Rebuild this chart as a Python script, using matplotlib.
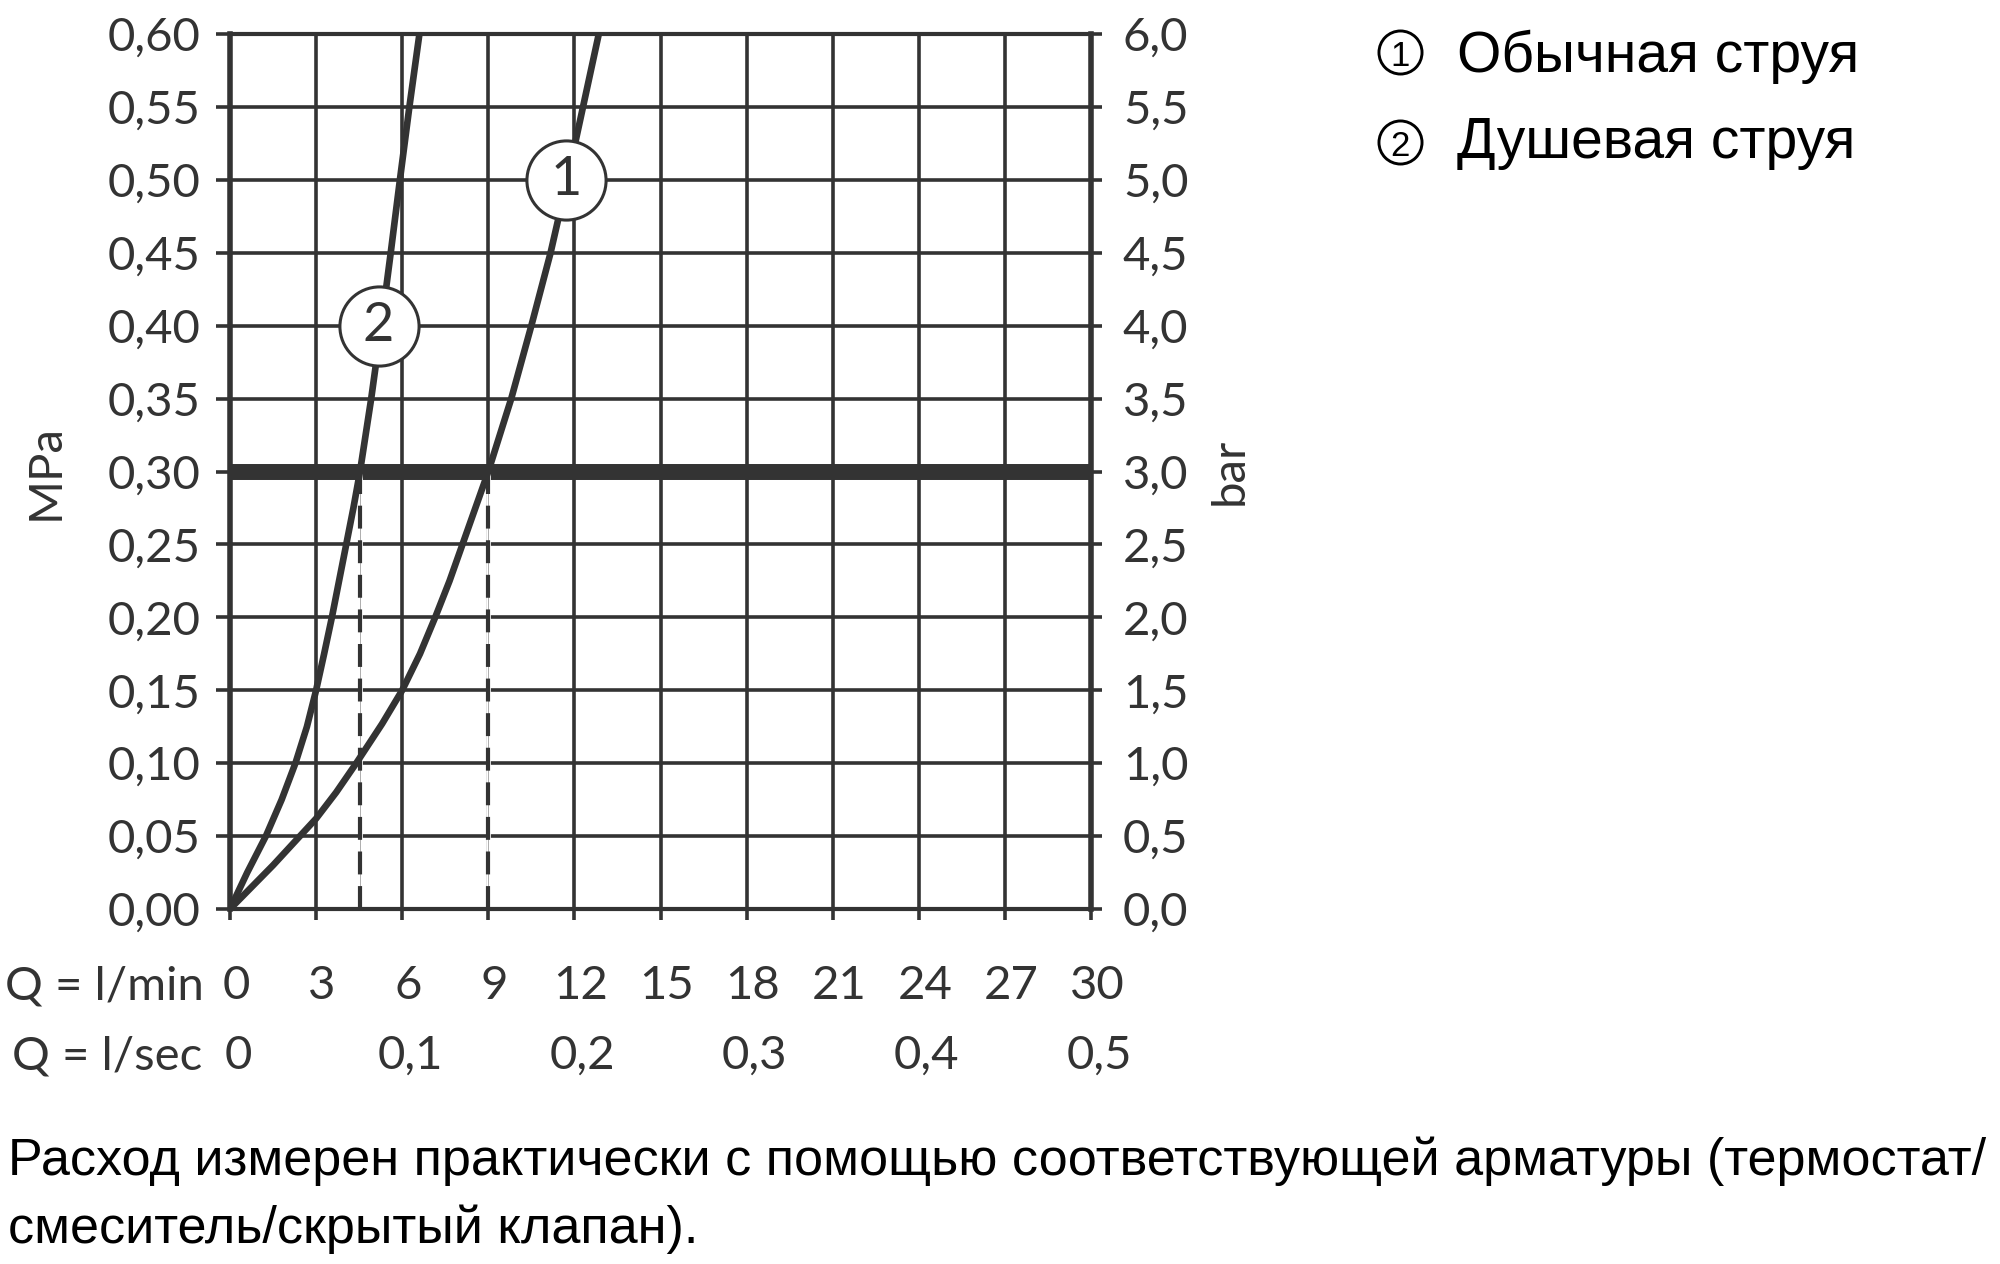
import numpy as np
import matplotlib
matplotlib.use("Agg")
import matplotlib.pyplot as plt
from matplotlib import transforms as mtransforms
from matplotlib.lines import Line2D

# ---------------- data ----------------
# Curve 1: Обычная струя  (Q l/min, p MPa)
q1 = [0.0, 1.5, 3.0, 3.7, 4.4, 5.3, 6.0, 6.62, 7.15, 7.65, 8.1, 8.55, 9.0, 9.8, 10.5, 11.17, 11.75, 12.3, 12.85]
p1 = [0.0, 0.03, 0.062, 0.08, 0.10, 0.127, 0.15, 0.175, 0.20, 0.225, 0.25, 0.275, 0.30, 0.35, 0.40, 0.45, 0.50, 0.55, 0.60]
# Curve 2: Душевая струя
q2 = [0.0, 0.6, 1.25, 1.8, 2.28, 2.68, 3.0, 3.28, 3.55, 3.8, 4.05, 4.3, 4.53, 4.92, 5.27, 5.6, 5.92, 6.25, 6.6]
p2 = [0.0, 0.025, 0.05, 0.075, 0.10, 0.125, 0.15, 0.175, 0.20, 0.225, 0.25, 0.275, 0.30, 0.35, 0.40, 0.45, 0.50, 0.55, 0.60]

marker_labels = ["1", "2"]
marker_q = [11.71, 5.18]
marker_p = [0.50, 0.40]

ref_pressure = 0.30           # thick reference line (MPa)
dashed_q = [4.53, 9.0]        # flow at 0.30 MPa

y_ticks = [0.00, 0.05, 0.10, 0.15, 0.20, 0.25, 0.30, 0.35, 0.40, 0.45, 0.50, 0.55, 0.60]
y_labels = ["0,00", "0,05", "0,10", "0,15", "0,20", "0,25", "0,30", "0,35", "0,40", "0,45", "0,50", "0,55", "0,60"]
bar_ticks = [0.0, 0.5, 1.0, 1.5, 2.0, 2.5, 3.0, 3.5, 4.0, 4.5, 5.0, 5.5, 6.0]
bar_labels = ["0,0", "0,5", "1,0", "1,5", "2,0", "2,5", "3,0", "3,5", "4,0", "4,5", "5,0", "5,5", "6,0"]
x_ticks = [0, 3, 6, 9, 12, 15, 18, 21, 24, 27, 30]
x_labels_min = ["0", "3", "6", "9", "12", "15", "18", "21", "24", "27", "30"]
x_sec_pos = [0, 6, 12, 18, 24, 30]
x_labels_sec = ["0", "0,1", "0,2", "0,3", "0,4", "0,5"]

legend_items = ["Обычная струя", "Душевая струя"]
legend_nums = ["1", "2"]
footnote = ["Расход измерен практически с помощью соответствующей арматуры (термостат/",
            "смеситель/скрытый клапан)."]

# ---------------- style ----------------
DARK = "#333333"
TICKFONT = ["Lato", "DejaVu Sans"]
TEXTFONT = ["Liberation Sans", "DejaVu Sans"]
TS = 34

fig = plt.figure(figsize=(20, 12.64), dpi=100)
ax = fig.add_axes([0.115, 0.28085, 0.4305, 0.69225])
ax.set_xlim(0, 30)
ax.set_ylim(0, 0.6)

ax.set_xticks(x_ticks)
ax.set_yticks(y_ticks)
ax.set_yticklabels(y_labels, fontsize=TS, family=TICKFONT, color=DARK)
ax.grid(True, color=DARK, lw=2.6, zorder=1)
ax.set_axisbelow(True)
ax.tick_params(axis="y", left=True, right=False, length=10, width=2.6, color=DARK,
               pad=11, labelcolor=DARK)
ax.tick_params(axis="x", bottom=True, top=False, length=8, width=2.6, color=DARK,
               labelbottom=False)
for side in ["left", "right"]:
    ax.spines[side].set_linewidth(4.0)
    ax.spines[side].set_color(DARK)
for side in ["top", "bottom"]:
    ax.spines[side].set_linewidth(3.0)
    ax.spines[side].set_color(DARK)

# right axis (bar)
ax2 = ax.twinx()
ax2.set_ylim(0, 6)
ax2.set_yticks(bar_ticks)
ax2.set_yticklabels(bar_labels, fontsize=TS, family=TICKFONT, color=DARK)
ax2.tick_params(axis="y", right=True, left=False, length=8, width=2.6, color=DARK, pad=15)
for s in ax2.spines.values():
    s.set_visible(False)

# thick reference line
ax.axhline(ref_pressure, color=DARK, lw=11.5, zorder=2, solid_capstyle="butt")

# dashed verticals (white under-stroke hides grid)
for q in dashed_q:
    ax.plot([q, q], [0, ref_pressure], color="white", lw=3.4, zorder=2.1, solid_capstyle="butt")
    ax.plot([q, q], [0, ref_pressure], color="#a0a0a0", lw=0.6, zorder=2.2)
    ax.plot([q, q], [0, ref_pressure], color=DARK, lw=3.0, zorder=2.3,
            linestyle=(0, (5.5, 2.8)), dash_capstyle="butt")

# curves
ax.plot(q1, p1, color=DARK, lw=4.8, zorder=3, solid_joinstyle="round", solid_capstyle="butt")
ax.plot(q2, p2, color=DARK, lw=4.8, zorder=3, solid_joinstyle="round", solid_capstyle="butt")

# circled labels on curves
ax.plot(marker_q, marker_p, linestyle="none", marker="o", ms=57, mfc="white",
        mec=DARK, mew=2.2, zorder=5, clip_on=False)
for lab, q, p in zip(marker_labels, marker_q, marker_p):
    ax.text(q, p, lab, ha="center", va="center", fontsize=39, family=TICKFONT,
            color=DARK, zorder=6)

# x labels rows
blend = mtransforms.blended_transform_factory(ax.transData, ax.transAxes)
row1 = mtransforms.offset_copy(blend, fig=fig, x=6, y=0, units="dots")
row2 = mtransforms.offset_copy(blend, fig=fig, x=8, y=0, units="dots")
for q, lab in zip(x_ticks, x_labels_min):
    ax.text(q, -0.1029, lab, transform=row1, ha="center", va="baseline",
            fontsize=TS, family=TICKFONT, color=DARK)
for q, lab in zip(x_sec_pos, x_labels_sec):
    ax.text(q, -0.1829, lab, transform=row2, ha="center", va="baseline",
            fontsize=TS, family=TICKFONT, color=DARK)
fig.text(204 / 2000, 1 - 999 / 1264, "Q = l/min", ha="right", va="baseline",
         fontsize=TS, family=TICKFONT, color=DARK)
fig.text(202 / 2000, 1 - 1069 / 1264, "Q = l/sec", ha="right", va="baseline",
         fontsize=TS, family=TICKFONT, color=DARK)

# axis titles
yblend = mtransforms.blended_transform_factory(ax.transAxes, ax.transData)
ax.text(-0.214, ref_pressure, "MPa", transform=yblend, rotation=90, ha="center", va="center",
        fontsize=TS, family=TICKFONT, color=DARK)
ax.text(1.1614, ref_pressure, "bar", transform=yblend, rotation=90, ha="center", va="center",
        fontsize=TS, family=TICKFONT, color=DARK)

# legend (top right)
leg_base = [0.943, 0.875]
leg_circ = [1 - 52 / 1264, 1 - 142 / 1264]
for i, (num, name) in enumerate(zip(legend_nums, legend_items)):
    fig.text(0.7285, leg_base[i], name, ha="left", va="baseline", fontsize=41,
             family=TEXTFONT, color="black")
    fig.add_artist(Line2D([0.700], [leg_circ[i]], transform=fig.transFigure, marker="o",
                          ms=31, mfc="none", mec="black", mew=2.1, linestyle="none"))
    fig.text(0.7002, leg_circ[i] - 0.0005, num, ha="center", va="center_baseline", fontsize=25,
             family=TEXTFONT, color="black")

# footnote
fig.text(0.004, 1 - 1175 / 1264, footnote[0], ha="left", va="baseline", fontsize=37.5,
         family=TEXTFONT, color="black")
fig.text(0.004, 1 - 1243 / 1264, footnote[1], ha="left", va="baseline", fontsize=37.5,
         family=TEXTFONT, color="black")

fig.savefig("out.png", dpi=100, facecolor="white")
